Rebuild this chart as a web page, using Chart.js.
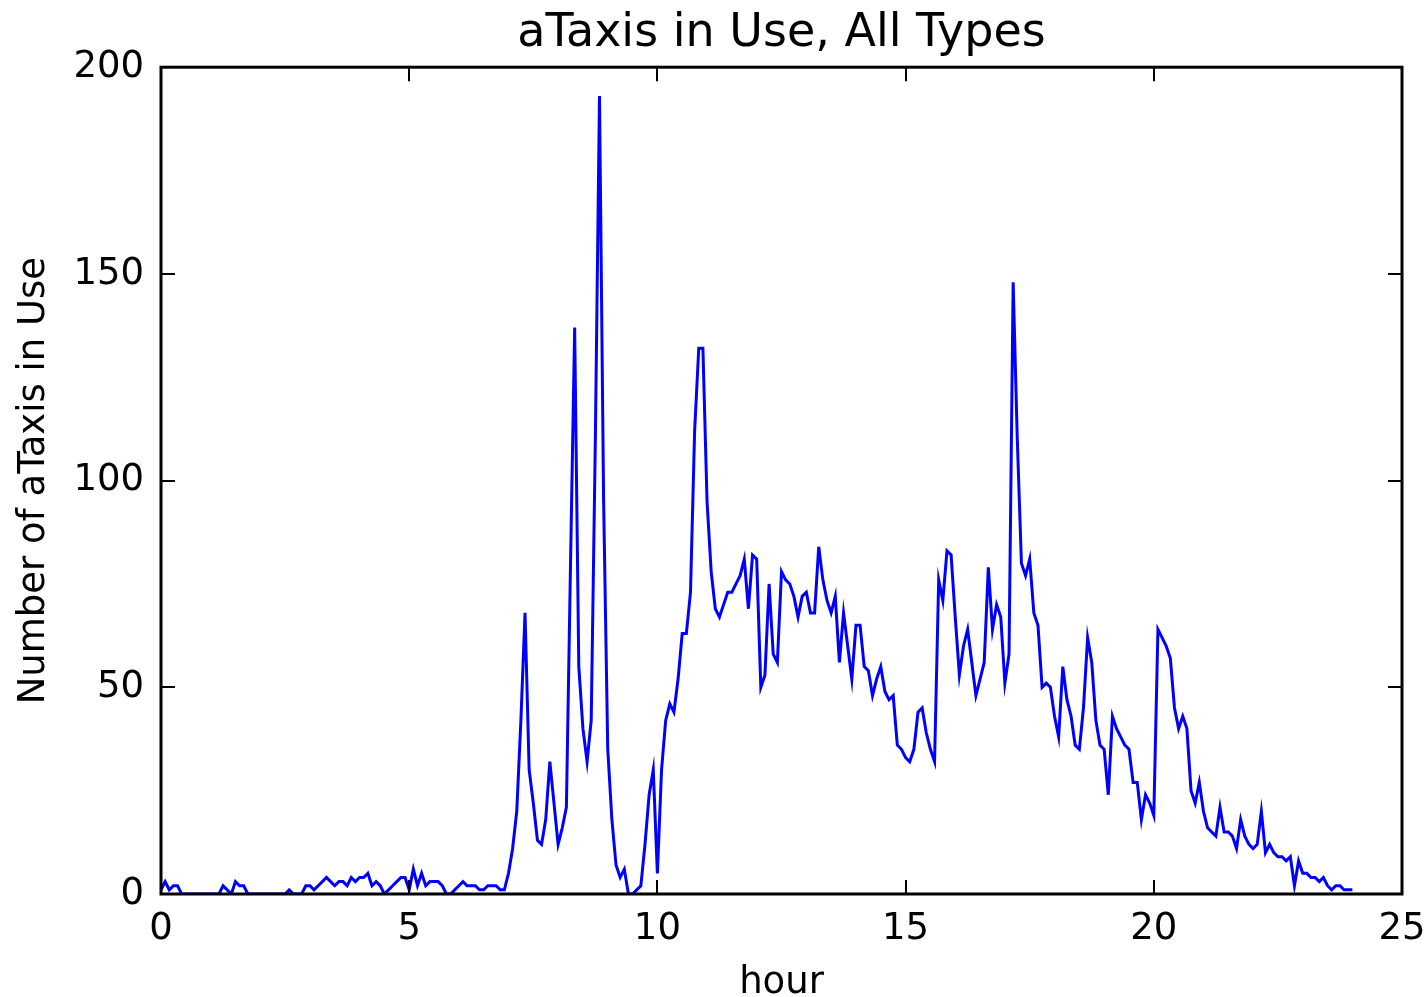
<!DOCTYPE html>
<html>
<head>
<meta charset="utf-8">
<script src="https://cdn.jsdelivr.net/npm/chart.js@4.4.1/dist/chart.umd.min.js"></script>
<style>
body{margin:0;background:#fff;}
#chart{display:block;}
</style>
</head>
<body>
<canvas id="chart" width="1427" height="997"></canvas>
<script>
// aTaxis in use, one value every 5 minutes from 0h to 24h
let stepMinutes = 5
let taxisInUse = [
 1,3,1,2,2,0,0,0,0,0,0,0,0,0,0,2,1,0,3,2,2,0,0,0,0,0,0,0,0,0,
 0,1,0,0,0,2,2,1,2,3,4,3,2,3,3,2,4,3,4,4,5,2,3,2,0,1,2,3,4,4,
 1,6,2,5,2,3,3,3,2,0,0,1,2,3,2,2,2,1,1,2,2,2,1,1,5,11,20,42,68,30,
 22,13,12,18,32,22,12,16,21,80,137,55,40,32,42,110,193,95,35,18,7,4,6,0,0,1,2,12,24,30,
 5,30,42,46,44,52,63,63,73,112,132,132,95,78,69,67,70,73,73,75,77,81,69,82,81,50,53,75,58,56,
 78,76,75,72,67,72,73,68,68,84,76,71,68,72,56,68,60,52,65,65,55,54,48,52,55,49,47,48,36,35,
 33,32,35,44,45,39,35,32,76,71,83,82,67,53,60,64,56,48,52,56,79,64,70,67,51,58,148,110,80,77,
 81,68,65,50,51,50,43,38,55,47,43,36,35,45,62,56,42,36,35,24,43,40,38,36,35,27,27,18,24,22,
 19,64,62,60,57,45,40,43,40,25,22,27,20,16,15,14,21,15,15,14,11,18,14,12,11,12,20,10,12,10,
 9,9,8,9,2,8,5,5,4,4,3,4,2,1,2,2,1,1,1
]
let xTicks = [0,5,10,15,20,25]
let yTicks = [0,50,100,150,200]
let chartTitle = "aTaxis in Use, All Types"
let xTitle = "hour"
let yTitle = "Number of aTaxis in Use"

let points = taxisInUse.map((v,i)=>({x: i*stepMinutes/60, y: v}))

const fontName = "'DejaVu Sans', sans-serif"

// keep the title centred over the plot, as matplotlib does
const titleOverPlot = {
  id: "titleOverPlot",
  afterLayout(chart){
    let t = chart.titleBlock
    if(t){
      t.left = chart.chartArea.left
      t.right = chart.chartArea.right
      t.width = t.right - t.left
    }
  }
}

// box round the plot with ticks pointing inwards, on all four sides
const frameBox = {
  id: "frameBox",
  afterDatasetsDraw(chart){
    const {ctx, chartArea:a, scales} = chart
    const len = 14
    ctx.save()
    ctx.strokeStyle = "#000"
    ctx.lineWidth = 2
    scales.x.ticks.forEach((t,i)=>{
      let px = Math.round(scales.x.getPixelForTick(i))
      ctx.beginPath()
      ctx.moveTo(px, a.bottom); ctx.lineTo(px, a.bottom-len)
      ctx.moveTo(px, a.top); ctx.lineTo(px, a.top+len)
      ctx.stroke()
    })
    scales.y.ticks.forEach((t,i)=>{
      let py = Math.round(scales.y.getPixelForTick(i))
      ctx.beginPath()
      ctx.moveTo(a.left, py); ctx.lineTo(a.left+len, py)
      ctx.moveTo(a.right, py); ctx.lineTo(a.right-len, py)
      ctx.stroke()
    })
    ctx.lineWidth = 3
    ctx.strokeRect(a.left, a.top, a.right-a.left, a.bottom-a.top)
    ctx.restore()
  }
}

new Chart(document.getElementById("chart"), {
  type: "line",
  data: {
    datasets: [{
      data: points,
      borderColor: "#0000ff",
      borderWidth: 3,
      pointRadius: 0,
      tension: 0,
      fill: false
    }]
  },
  options: {
    responsive: false,
    animation: false,
    devicePixelRatio: 1,
    layout: {padding: {left: 0, right: 25, top: 0, bottom: 0}},
    plugins: {
      legend: {display: false},
      tooltip: {enabled: false},
      title: {
        display: true,
        text: chartTitle,
        color: "#000",
        font: {family: fontName, size: 46, weight: "normal", lineHeight: 1.2},
        padding: {top: 6, bottom: 6}
      }
    },
    scales: {
      x: {
        type: "linear",
        min: 0, max: 25,
        afterBuildTicks: s=>{ s.ticks = xTicks.map(v=>({value: v})) },
        afterFit: s=>{ s.height = 103; s.paddingLeft = 0; s.paddingRight = 0 },
        grid: {display: false},
        border: {display: false},
        ticks: {color: "#000", font: {family: fontName, size: 37}, padding: 5, maxRotation: 0},
        title: {display: true, text: xTitle, color: "#000",
          font: {family: fontName, size: 37, lineHeight: 1}, padding: {top: 0, bottom: -5}}
      },
      y: {
        type: "linear",
        min: 0, max: 200,
        afterBuildTicks: s=>{ s.ticks = yTicks.map(v=>({value: v})) },
        afterFit: s=>{ s.width = 161 },
        grid: {display: false},
        border: {display: false},
        ticks: {color: "#000", font: {family: fontName, size: 37}, padding: 9},
        title: {display: true, text: yTitle, color: "#000",
          font: {family: fontName, size: 37, lineHeight: 1}, padding: {top: 16, bottom: 0}}
      }
    }
  },
  plugins: [titleOverPlot, frameBox]
})
</script>
</body>
</html>
